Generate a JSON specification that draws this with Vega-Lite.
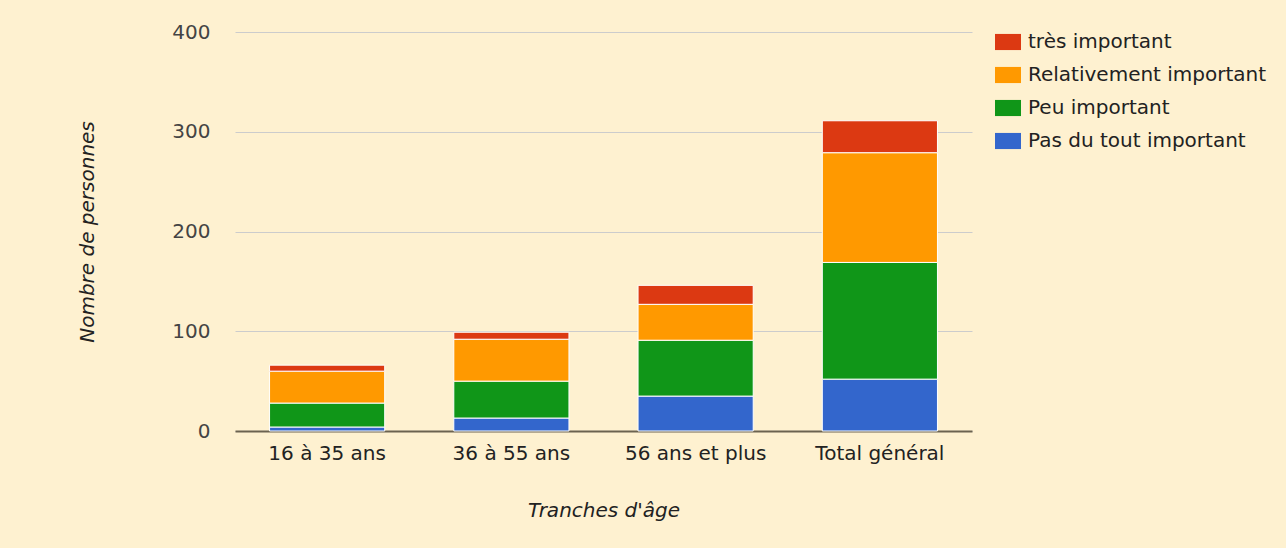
{
  "$schema": "https://vega.github.io/schema/vega-lite/v6.json",
  "autosize": {"type": "none"},
  "width": 737,
  "height": 399,
  "padding": {"left": 235, "top": 32, "right": 314, "bottom": 117},
  "background": "#fef1d0",
  "config": {
    "view": {"stroke": null},
    "font": "DejaVu Sans"
  },
  "data": {
    "values": [
      {"tranche": "16 à 35 ans", "niveau": "Pas du tout important", "personnes": 4},
      {"tranche": "16 à 35 ans", "niveau": "Peu important", "personnes": 24},
      {"tranche": "16 à 35 ans", "niveau": "Relativement important", "personnes": 32},
      {"tranche": "16 à 35 ans", "niveau": "très important", "personnes": 6},
      {"tranche": "36 à 55 ans", "niveau": "Pas du tout important", "personnes": 13},
      {"tranche": "36 à 55 ans", "niveau": "Peu important", "personnes": 37},
      {"tranche": "36 à 55 ans", "niveau": "Relativement important", "personnes": 42},
      {"tranche": "36 à 55 ans", "niveau": "très important", "personnes": 7},
      {"tranche": "56 ans et plus", "niveau": "Pas du tout important", "personnes": 35},
      {"tranche": "56 ans et plus", "niveau": "Peu important", "personnes": 56},
      {"tranche": "56 ans et plus", "niveau": "Relativement important", "personnes": 36},
      {"tranche": "56 ans et plus", "niveau": "très important", "personnes": 19},
      {"tranche": "Total général", "niveau": "Pas du tout important", "personnes": 52},
      {"tranche": "Total général", "niveau": "Peu important", "personnes": 117},
      {"tranche": "Total général", "niveau": "Relativement important", "personnes": 110},
      {"tranche": "Total général", "niveau": "très important", "personnes": 32}
    ]
  },
  "mark": {"type": "bar", "stroke": "#ffffff", "strokeWidth": 1},
  "encoding": {
    "x": {
      "field": "tranche",
      "type": "nominal",
      "sort": null,
      "scale": {"paddingInner": 0.375, "paddingOuter": 0.1875},
      "axis": {
        "title": "Tranches d'âge",
        "titleFont": "DejaVu Sans",
        "titleFontStyle": "italic",
        "titleFontWeight": "normal",
        "titleFontSize": 20,
        "titleColor": "#222222",
        "titlePadding": 37,
        "labelAngle": 0,
        "labelFontSize": 20,
        "labelColor": "#222222",
        "labelPadding": 12,
        "ticks": false,
        "domainColor": "#6b6350",
        "domainWidth": 2
      }
    },
    "y": {
      "field": "personnes",
      "type": "quantitative",
      "aggregate": "sum",
      "stack": "zero",
      "scale": {"domain": [0, 400], "nice": false},
      "axis": {
        "title": "Nombre de personnes",
        "titleFont": "DejaVu Sans",
        "titleFontStyle": "italic",
        "titleFontWeight": "normal",
        "titleFontSize": 20,
        "titleColor": "#222222",
        "titlePadding": 74,
        "values": [0, 100, 200, 300, 400],
        "labelFontSize": 20,
        "labelColor": "#444444",
        "labelPadding": 25,
        "ticks": false,
        "domain": false,
        "gridColor": "#cccccc",
        "gridWidth": 1
      }
    },
    "color": {
      "field": "niveau",
      "type": "nominal",
      "scale": {
        "domain": ["très important", "Relativement important", "Peu important", "Pas du tout important"],
        "range": ["#dc3912", "#ff9900", "#109618", "#3366cc"]
      },
      "legend": {
        "title": null,
        "orient": "none",
        "legendX": 760,
        "legendY": -3,
        "padding": 0,
        "symbolType": "M-1,-0.62H1V0.62H-1Z",
        "symbolSize": 676,
        "symbolStrokeWidth": 0,
        "symbolOpacity": 1,
        "labelFontSize": 20,
        "labelColor": "#222222",
        "labelOffset": 7,
        "rowPadding": 10,
        "labelLimit": 400
      }
    },
    "order": {"field": "niveau", "sort": "ascending"}
  }
}
